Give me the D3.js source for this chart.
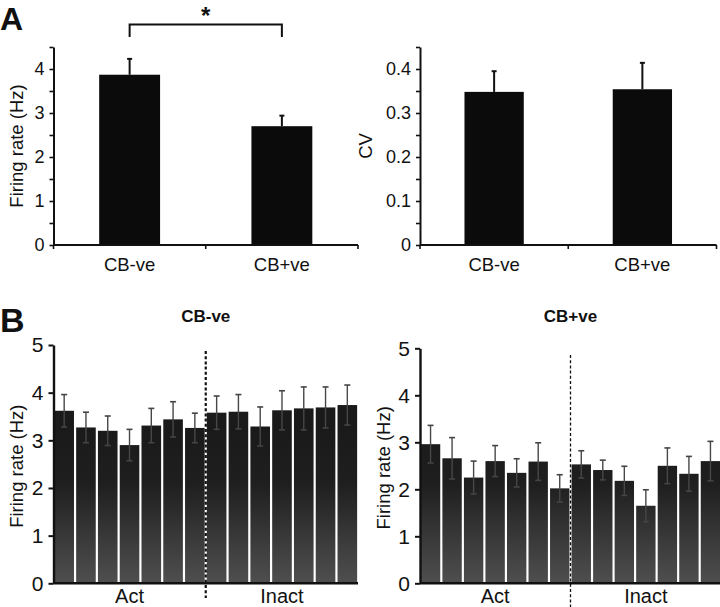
<!DOCTYPE html>
<html><head><meta charset="utf-8">
<script src="https://cdn.jsdelivr.net/npm/d3@7"></script>
<style>
html,body{margin:0;padding:0;background:#fff;}
svg text{font-family:"Liberation Sans",Arial,Helvetica,sans-serif;fill:#111;}
</style></head><body>
<svg id="chart" width="720" height="607"></svg>
<script>
// ---- Data ----
const catsA = ["CB-ve", "CB+ve"];
const rateA = [3.87, 2.70];
const rateErrA = [0.36, 0.24];
const cvA = [0.348, 0.354];
const cvErrA = [0.047, 0.060];
const rateTicksA = [0, 0.5, 1, 1.5, 2, 2.5, 3, 3.5, 4, 4.5];
const cvTicksA = [0, 0.05, 0.1, 0.15, 0.2, 0.25, 0.3, 0.35, 0.4, 0.45];

const groupsB = ["Act", "Inact"];
const conditionsB = ["a1","a2","a3","a4","a5","a6","a7","i1","i2","i3","i4","i5","i6","i7"];
const cbNegB    = [3.62, 3.27, 3.20, 2.90, 3.31, 3.44, 3.26, 3.58, 3.60, 3.29, 3.63, 3.67, 3.69, 3.74];
const cbNegErrB = [0.34, 0.32, 0.31, 0.33, 0.36, 0.37, 0.31, 0.35, 0.36, 0.41, 0.41, 0.45, 0.43, 0.42];
const cbPosB    = [2.96, 2.66, 2.25, 2.60, 2.35, 2.59, 2.02, 2.53, 2.41, 2.18, 1.65, 2.50, 2.33, 2.60];
const cbPosErrB = [0.40, 0.44, 0.35, 0.33, 0.30, 0.40, 0.29, 0.29, 0.21, 0.31, 0.34, 0.38, 0.37, 0.42];
const rateTicksB = [0, 1, 2, 3, 4, 5];

const svg = d3.select("#chart");
const FONT = "Liberation Sans,Arial,Helvetica,sans-serif";

// Panel letters
svg.append("text").attr("x", 0).attr("y", 29.5).attr("font-size", 32).attr("font-weight", "bold").text("A");
svg.append("text").attr("x", 0).attr("y", 332).attr("font-size", 34).attr("font-weight", "bold").text("B");

// ---- Panel A helper ----
function panelA(opts) {
  const {x0, x1, yTop, yBot, domainMax, values, errs, ticks, fmt, ylabel, ylabelX} = opts;
  const x = d3.scaleBand().domain(catsA).range([x0, x1]).paddingInner(0.6).paddingOuter(0.3);
  const y = d3.scaleLinear().domain([0, domainMax]).range([yBot, yTop]);
  const g = svg.append("g");
  g.selectAll("rect.bar").data(catsA).join("rect")
    .attr("x", d => x(d)).attr("width", x.bandwidth())
    .attr("y", (d, i) => y(values[i])).attr("height", (d, i) => y(0) - y(values[i]))
    .attr("fill", "#0b0b0b");
  g.selectAll("line.err").data(catsA).join("line")
    .attr("x1", d => x(d) + x.bandwidth() / 2).attr("x2", d => x(d) + x.bandwidth() / 2)
    .attr("y1", (d, i) => y(values[i])).attr("y2", (d, i) => y(values[i] + errs[i]))
    .attr("stroke", "#111").attr("stroke-width", 2);
  g.selectAll("line.cap").data(catsA).join("line")
    .attr("x1", d => x(d) + x.bandwidth() / 2 - 2.5).attr("x2", d => x(d) + x.bandwidth() / 2 + 2.5)
    .attr("y1", (d, i) => y(values[i] + errs[i])).attr("y2", (d, i) => y(values[i] + errs[i]))
    .attr("stroke", "#111").attr("stroke-width", 2);
  const ya = g.append("g").attr("transform", `translate(${x0},0)`)
    .call(d3.axisLeft(y).tickValues(ticks).tickSize(4).tickSizeOuter(0).tickPadding(5).tickFormat(fmt));
  ya.select(".domain").attr("stroke", "#111").attr("stroke-width", 2);
  ya.selectAll(".tick line").attr("stroke", "#111").attr("stroke-width", 1.6);
  ya.selectAll(".tick text").attr("font-family", FONT).attr("font-size", 18).attr("fill", "#111");
  const bounds = [x0, (x(catsA[0]) + x.bandwidth() + x(catsA[1])) / 2, x1];
  g.append("line").attr("x1", x0).attr("x2", x1).attr("y1", y(0)).attr("y2", y(0))
    .attr("stroke", "#111").attr("stroke-width", 2);
  g.selectAll("line.xt").data(bounds).join("line")
    .attr("x1", d => d).attr("x2", d => d).attr("y1", y(0)).attr("y2", y(0) + 4)
    .attr("stroke", "#111").attr("stroke-width", 1.6);
  g.selectAll("text.xl").data(catsA).join("text")
    .attr("x", d => x(d) + x.bandwidth() / 2).attr("y", yBot + 26)
    .attr("text-anchor", "middle").attr("font-size", 18.5).text(d => d);
  g.append("text").attr("transform", `translate(${ylabelX},${(yTop + yBot) / 2}) rotate(-90)`)
    .attr("text-anchor", "middle").attr("font-size", 18.5).text(ylabel);
  return {x, y};
}

const A1 = panelA({x0: 53.5, x1: 358, yTop: 47, yBot: 245, domainMax: 4.5, values: rateA, errs: rateErrA,
  ticks: rateTicksA, fmt: d => Number.isInteger(d) ? d : "", ylabel: "Firing rate (Hz)", ylabelX: 23});
panelA({x0: 420, x1: 716.5, yTop: 47, yBot: 245, domainMax: 0.45, values: cvA, errs: cvErrA,
  ticks: cvTicksA, fmt: d => (Math.round(d * 100) % 10 === 0) ? (d === 0 ? "0" : d.toFixed(1)) : "",
  ylabel: "CV", ylabelX: 372});

// significance bracket
{
  const cx0 = A1.x(catsA[0]) + A1.x.bandwidth() / 2;
  const cx1 = A1.x(catsA[1]) + A1.x.bandwidth() / 2;
  svg.append("path").attr("d", `M${cx0},37V24.5H${cx1}V37`).attr("fill", "none")
    .attr("stroke", "#111").attr("stroke-width", 2);
  svg.append("text").attr("x", (cx0 + cx1) / 2).attr("y", 24).attr("text-anchor", "middle")
    .attr("font-size", 24).attr("font-weight", "bold").text("*");
}

// ---- Panel B ----
const defs = svg.append("defs");
function panelB(opts) {
  const {id, x0, x1, yTop, yBot, values, errs, title, ylabelX, dashW, dashTop, dashBot} = opts;
  const x = d3.scaleBand().domain(conditionsB).range([x0, x1]).paddingInner(0.1).paddingOuter(0.04);
  const y = d3.scaleLinear().domain([0, 5]).range([yBot, yTop]);
  const grad = defs.append("linearGradient").attr("id", id).attr("gradientUnits", "userSpaceOnUse")
    .attr("x1", 0).attr("x2", 0).attr("y1", y(3.2)).attr("y2", y(0));
  grad.append("stop").attr("offset", 0).attr("stop-color", "#1a1a1a");
  grad.append("stop").attr("offset", 0.35).attr("stop-color", "#1f1f1f");
  grad.append("stop").attr("offset", 1).attr("stop-color", "#4f4f4f");
  const g = svg.append("g");
  g.selectAll("rect").data(conditionsB).join("rect")
    .attr("x", d => x(d)).attr("width", x.bandwidth())
    .attr("y", (d, i) => y(values[i])).attr("height", (d, i) => y(0) - y(values[i]))
    .attr("fill", `url(#${id})`);
  const cx = d => x(d) + x.bandwidth() / 2;
  g.selectAll("line.err").data(conditionsB).join("line")
    .attr("x1", cx).attr("x2", cx)
    .attr("y1", (d, i) => y(values[i] - errs[i])).attr("y2", (d, i) => y(values[i] + errs[i]))
    .attr("stroke", "#474747").attr("stroke-width", 1.4);
  ["+", "-"].forEach(s => {
    g.selectAll(null).data(conditionsB).join("line")
      .attr("x1", d => cx(d) - 3).attr("x2", d => cx(d) + 3)
      .attr("y1", (d, i) => y(values[i] + (s === "+" ? errs[i] : -errs[i])))
      .attr("y2", (d, i) => y(values[i] + (s === "+" ? errs[i] : -errs[i])))
      .attr("stroke", "#444").attr("stroke-width", 1.6);
  });
  const ya = g.append("g").attr("transform", `translate(${x0},0)`)
    .call(d3.axisLeft(y).tickValues(rateTicksB).tickSize(5).tickSizeOuter(0).tickPadding(5).tickFormat(d3.format("d")));
  ya.select(".domain").attr("stroke", "#111").attr("stroke-width", 2.4);
  ya.selectAll(".tick line").attr("stroke", "#111").attr("stroke-width", 2);
  ya.selectAll(".tick text").attr("font-family", FONT).attr("font-size", 21).attr("fill", "#111");
  g.append("line").attr("x1", x0).attr("x2", x1).attr("y1", y(0)).attr("y2", y(0))
    .attr("stroke", "#111").attr("stroke-width", 2.6);
  const dx = (x(conditionsB[6]) + x.bandwidth() + x(conditionsB[7])) / 2;
  g.append("line").attr("x1", dx).attr("x2", dx).attr("y1", dashTop).attr("y2", dashBot)
    .attr("stroke", "#111").attr("stroke-width", dashW).attr("stroke-dasharray", "3,2.2");
  const groupIdx = [[0, 6], [7, 13]];
  g.selectAll("text.gl").data(groupsB).join("text")
    .attr("x", (d, i) => (x(conditionsB[groupIdx[i][0]]) + x(conditionsB[groupIdx[i][1]]) + x.bandwidth()) / 2)
    .attr("y", 603).attr("text-anchor", "middle").attr("font-size", 20).text(d => d);
  g.append("text").attr("x", dx).attr("y", 322).attr("text-anchor", "middle")
    .attr("font-size", 17).attr("font-weight", "bold").text(title);
  g.append("text").attr("transform", `translate(${ylabelX},${(yTop + yBot) / 2 + 2}) rotate(-90)`)
    .attr("text-anchor", "middle").attr("font-size", 18.5).text("Firing rate (Hz)");
}

panelB({id: "gL", x0: 53.5, x1: 358, yTop: 345, yBot: 583.3, values: cbNegB, errs: cbNegErrB,
  title: "CB-ve", ylabelX: 23, dashW: 2.2, dashTop: 351, dashBot: 598});
panelB({id: "gR", x0: 420, x1: 721, yTop: 348.3, yBot: 583.3, values: cbPosB, errs: cbPosErrB,
  title: "CB+ve", ylabelX: 390, dashW: 1.3, dashTop: 355, dashBot: 607});
</script>
</body></html>
